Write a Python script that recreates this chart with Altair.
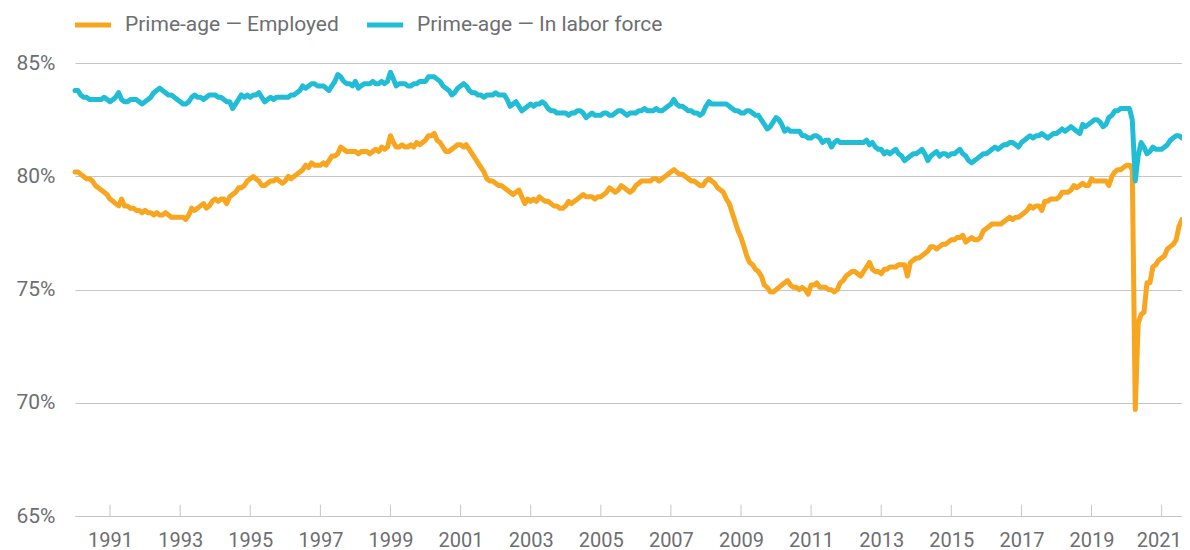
import altair as alt
import pandas as pd

series_names = ["Prime-age — Employed", "Prime-age — In labor force"]
series_colors = ["#F8A51F", "#21BDD6"]
start_month = "1990-01-01"
tick_years = list(range(1991, 2022, 2))
y_ticks = [65, 70, 75, 80, 85]

# Monthly values, Jan 1990 .. Aug 2021 (percent)
employed = [
    80.2, 80.2, 80.1, 80.0, 79.9, 79.9, 79.8, 79.6, 79.5, 79.4, 79.3, 79.2,  # 1990
    79.0, 78.9, 78.8, 78.7, 79.0, 78.7, 78.7, 78.6, 78.6, 78.5, 78.5, 78.4,  # 1991
    78.5, 78.4, 78.4, 78.3, 78.4, 78.3, 78.3, 78.4, 78.3, 78.2, 78.2, 78.2,  # 1992
    78.2, 78.2, 78.1, 78.3, 78.6, 78.5, 78.6, 78.7, 78.8, 78.6, 78.7, 78.9,  # 1993
    79.0, 78.9, 79.0, 79.0, 78.8, 79.1, 79.2, 79.3, 79.5, 79.5, 79.6, 79.8,  # 1994
    79.9, 80.0, 79.9, 79.8, 79.6, 79.6, 79.7, 79.8, 79.8, 79.9, 79.8, 79.7,  # 1995
    79.8, 80.0, 79.9, 80.0, 80.1, 80.2, 80.3, 80.5, 80.4, 80.6, 80.5, 80.5,  # 1996
    80.5, 80.6, 80.5, 80.7, 80.9, 80.9, 81.0, 81.3, 81.2, 81.1, 81.1, 81.1,  # 1997
    81.1, 81.0, 81.1, 81.1, 81.1, 81.0, 81.1, 81.2, 81.1, 81.3, 81.2, 81.3,  # 1998
    81.8, 81.5, 81.3, 81.3, 81.4, 81.3, 81.3, 81.4, 81.3, 81.5, 81.4, 81.5,  # 1999
    81.6, 81.8, 81.8, 81.9, 81.6, 81.5, 81.3, 81.1, 81.1, 81.2, 81.3, 81.4,  # 2000
    81.4, 81.3, 81.4, 81.2, 81.0, 80.8, 80.6, 80.4, 80.2, 79.9, 79.8, 79.8,  # 2001
    79.7, 79.6, 79.6, 79.5, 79.4, 79.3, 79.2, 79.3, 79.4, 79.1, 78.8, 79.0,  # 2002
    78.9, 79.0, 78.9, 79.1, 79.0, 78.9, 78.9, 78.8, 78.7, 78.7, 78.6, 78.6,  # 2003
    78.7, 78.9, 78.8, 78.9, 79.0, 79.1, 79.2, 79.1, 79.1, 79.1, 79.0, 79.1,  # 2004
    79.1, 79.2, 79.3, 79.5, 79.4, 79.3, 79.4, 79.6, 79.5, 79.4, 79.3, 79.4,  # 2005
    79.6, 79.7, 79.8, 79.8, 79.8, 79.8, 79.9, 79.9, 79.8, 79.9, 80.0, 80.1,  # 2006
    80.2, 80.3, 80.2, 80.1, 80.1, 80.0, 79.9, 79.8, 79.8, 79.7, 79.6, 79.6,  # 2007
    79.8, 79.9, 79.8, 79.7, 79.5, 79.4, 79.3, 79.0, 78.8, 78.4, 78.0, 77.6,  # 2008
    77.3, 76.9, 76.5, 76.2, 76.1, 75.9, 75.8, 75.6, 75.2, 75.1, 74.9, 74.9,  # 2009
    75.0, 75.1, 75.2, 75.3, 75.4, 75.2, 75.1, 75.1, 75.0, 75.1, 75.0, 74.8,  # 2010
    75.2, 75.2, 75.3, 75.1, 75.1, 75.1, 75.0, 75.0, 74.9, 75.0, 75.3, 75.4,  # 2011
    75.6, 75.7, 75.8, 75.8, 75.7, 75.6, 75.8, 76.0, 76.2, 75.9, 75.8, 75.8,  # 2012
    75.7, 75.9, 75.9, 76.0, 76.0, 76.0, 76.1, 76.1, 76.1, 75.6, 76.2, 76.3,  # 2013
    76.4, 76.4, 76.5, 76.6, 76.7, 76.9, 76.9, 76.8, 76.9, 77.0, 77.0, 77.1,  # 2014
    77.2, 77.2, 77.3, 77.3, 77.4, 77.1, 77.2, 77.3, 77.2, 77.2, 77.3, 77.6,  # 2015
    77.7, 77.8, 77.9, 77.9, 77.9, 77.9, 78.0, 78.1, 78.2, 78.1, 78.2, 78.2,  # 2016
    78.3, 78.4, 78.5, 78.7, 78.6, 78.7, 78.7, 78.5, 78.9, 78.9, 79.0, 79.0,  # 2017
    79.0, 79.1, 79.3, 79.3, 79.3, 79.4, 79.6, 79.5, 79.6, 79.7, 79.6, 79.6,  # 2018
    79.9, 79.8, 79.8, 79.8, 79.8, 79.8, 79.6, 80.0, 80.2, 80.3, 80.3, 80.4,  # 2019
    80.5, 80.5, 80.3, 69.7, 73.5, 73.9, 74.0, 75.3, 75.3, 76.0, 76.1, 76.3,  # 2020
    76.4, 76.5, 76.8, 76.9, 77.0, 77.2, 77.8, 78.1,                          # 2021
]

labor_force = [
    83.8, 83.8, 83.6, 83.5, 83.5, 83.4, 83.4, 83.4, 83.4, 83.4, 83.5, 83.4,  # 1990
    83.3, 83.4, 83.5, 83.7, 83.4, 83.3, 83.3, 83.4, 83.4, 83.4, 83.3, 83.2,  # 1991
    83.3, 83.4, 83.5, 83.7, 83.8, 83.9, 83.8, 83.7, 83.6, 83.6, 83.5, 83.4,  # 1992
    83.3, 83.2, 83.2, 83.3, 83.5, 83.6, 83.5, 83.5, 83.4, 83.5, 83.6, 83.6,  # 1993
    83.6, 83.5, 83.5, 83.4, 83.3, 83.3, 83.0, 83.2, 83.4, 83.6, 83.5, 83.6,  # 1994
    83.5, 83.6, 83.6, 83.7, 83.5, 83.3, 83.4, 83.5, 83.4, 83.5, 83.5, 83.5,  # 1995
    83.5, 83.5, 83.6, 83.6, 83.7, 83.8, 84.0, 83.9, 84.0, 84.1, 84.1, 84.0,  # 1996
    84.0, 84.0, 83.9, 83.8, 84.0, 84.2, 84.5, 84.4, 84.2, 84.1, 84.1, 84.0,  # 1997
    84.2, 83.9, 84.0, 84.1, 84.1, 84.1, 84.2, 84.1, 84.1, 84.2, 84.1, 84.2,  # 1998
    84.6, 84.3, 84.0, 84.1, 84.1, 84.1, 84.0, 84.0, 84.1, 84.1, 84.2, 84.2,  # 1999
    84.2, 84.4, 84.4, 84.4, 84.3, 84.2, 84.0, 83.9, 83.8, 83.6, 83.7, 83.9,  # 2000
    84.0, 84.1, 84.0, 83.8, 83.7, 83.7, 83.6, 83.6, 83.5, 83.6, 83.6, 83.6,  # 2001
    83.7, 83.6, 83.6, 83.6, 83.4, 83.1, 83.2, 83.3, 83.1, 82.9, 83.0, 83.1,  # 2002
    83.2, 83.1, 83.2, 83.2, 83.3, 83.2, 83.0, 82.9, 82.9, 82.8, 82.8, 82.8,  # 2003
    82.8, 82.7, 82.8, 82.8, 82.9, 82.9, 82.8, 82.6, 82.7, 82.8, 82.7, 82.7,  # 2004
    82.7, 82.8, 82.8, 82.7, 82.7, 82.8, 82.9, 82.9, 82.8, 82.7, 82.8, 82.8,  # 2005
    82.8, 82.9, 82.9, 83.0, 82.9, 82.9, 82.9, 83.0, 82.9, 82.9, 83.0, 83.1,  # 2006
    83.2, 83.4, 83.2, 83.1, 83.1, 83.0, 82.9, 82.9, 82.8, 82.8, 82.7, 82.8,  # 2007
    83.1, 83.3, 83.2, 83.2, 83.2, 83.2, 83.2, 83.2, 83.1, 83.0, 82.9, 82.9,  # 2008
    82.8, 82.8, 82.9, 82.9, 82.8, 82.7, 82.7, 82.5, 82.3, 82.1, 82.2, 82.4,  # 2009
    82.6, 82.5, 82.3, 82.0, 82.1, 82.0, 82.0, 82.0, 82.0, 81.8, 81.8, 81.7,  # 2010
    81.7, 81.8, 81.8, 81.7, 81.5, 81.6, 81.6, 81.3, 81.5, 81.6, 81.5, 81.5,  # 2011
    81.5, 81.5, 81.5, 81.5, 81.5, 81.5, 81.5, 81.6, 81.4, 81.5, 81.3, 81.2,  # 2012
    81.2, 81.0, 81.1, 81.0, 81.1, 81.2, 81.0, 80.9, 80.7, 80.8, 80.9, 81.0,  # 2013
    81.0, 81.1, 81.2, 81.0, 80.7, 80.9, 81.0, 81.1, 80.9, 81.0, 81.0, 80.9,  # 2014
    81.0, 81.0, 81.1, 81.2, 81.0, 80.9, 80.7, 80.6, 80.7, 80.8, 80.9, 81.0,  # 2015
    81.0, 81.1, 81.2, 81.3, 81.2, 81.3, 81.4, 81.4, 81.5, 81.5, 81.4, 81.3,  # 2016
    81.5, 81.6, 81.7, 81.8, 81.7, 81.8, 81.8, 81.9, 81.8, 81.7, 81.8, 81.9,  # 2017
    81.9, 82.0, 82.1, 82.0, 82.1, 82.2, 82.1, 82.0, 81.9, 82.3, 82.2, 82.3,  # 2018
    82.4, 82.5, 82.5, 82.4, 82.2, 82.3, 82.6, 82.7, 82.9, 82.9, 83.0, 83.0,  # 2019
    83.0, 83.0, 82.5, 79.8, 80.9, 81.5, 81.3, 81.0, 81.1, 81.3, 81.2, 81.2,  # 2020
    81.2, 81.3, 81.4, 81.6, 81.7, 81.8, 81.8, 81.7,                          # 2021
]

FONT = "Roboto"
TEXT_COLOR = "#6d6e71"
GRID_COLOR = "#c6c6c6"

dates = pd.date_range(start_month, periods=len(employed), freq="MS")
df = pd.concat(
    [
        pd.DataFrame({"date": dates, "value": employed, "series": series_names[0]}),
        pd.DataFrame({"date": dates, "value": labor_force, "series": series_names[1]}),
    ],
    ignore_index=True,
)
df["order"] = df["series"].map({series_names[0]: 0, series_names[1]: 1})

ticks_df = pd.DataFrame(
    {
        "date": pd.to_datetime([f"{y}-01-01" for y in tick_years]),
        "lo": [y_ticks[0]] * len(tick_years),
        "hi": [y_ticks[0] + 0.5] * len(tick_years),
    }
)

x_scale = alt.Scale(domain=[alt.DateTime(year=1990, month=1, date=1),
                            alt.DateTime(year=2021, month=8, date=1)])
y_scale = alt.Scale(domain=[65, 87], nice=False, zero=False)

lines = alt.Chart(df).mark_line(
    strokeWidth=5, strokeCap="round", strokeJoin="round"
).encode(
    x=alt.X(
        "date:T",
        scale=x_scale,
        title=None,
        axis=alt.Axis(
            values=[alt.DateTime(year=y, month=1, date=1) for y in tick_years],
            format="%Y",
            ticks=False,
            grid=False,
            domain=True,
            domainColor=GRID_COLOR,
            labelPadding=14,
            labelFontSize=20,
            labelFont=FONT,
            labelColor=TEXT_COLOR,
            labelOffset={"condition": {"test": f"year(datum.value) == {tick_years[-1]}",
                                       "value": -3},
                         "value": 0},
        ),
    ),
    y=alt.Y(
        "value:Q",
        scale=y_scale,
        title=None,
        axis=alt.Axis(
            values=y_ticks,
            labelExpr="datum.value + '%'",
            grid=True,
            gridColor=GRID_COLOR,
            gridWidth=1,
            domain=False,
            ticks=False,
            labelPadding=20,
            labelFontSize=21,
            labelFont=FONT,
            labelColor=TEXT_COLOR,
        ),
    ),
    color=alt.Color(
        "series:N",
        scale=alt.Scale(domain=series_names, range=series_colors),
        legend=alt.Legend(
            title=None,
            orient="none",
            legendX=-3,
            legendY=-14,
            direction="horizontal",
            symbolType="stroke",
            symbolStrokeWidth=5,
            symbolSize=1300,
            labelFontSize=21,
            labelFont=FONT,
            labelColor=TEXT_COLOR,
            labelOffset=11,
            labelLimit=0,
            columnPadding=17,
        ),
    ),
    order="order:Q",
)

xticks = alt.Chart(ticks_df).mark_rule(color=GRID_COLOR, strokeWidth=1).encode(
    x=alt.X("date:T", scale=x_scale),
    y=alt.Y("lo:Q", scale=y_scale),
    y2="hi:Q",
)

chart = alt.layer(xticks, lines).properties(
    width=1107,
    height=498,
    autosize=alt.AutoSizeParams(type="none"),
    padding={"left": 67, "top": 10, "right": 0, "bottom": 40},
).configure(font=FONT).configure_view(stroke=None, strokeWidth=0)

chart.save("out.html", embed_options={"renderer": "svg", "actions": False})
